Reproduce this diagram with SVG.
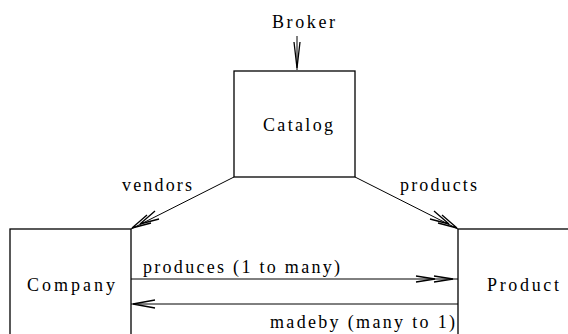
<svg xmlns="http://www.w3.org/2000/svg" width="568" height="334" viewBox="0 0 568 334">
  <style>
    .box { fill: #ffffff; stroke: #000000; stroke-width: 1.3; }
    .edge { fill: none; stroke: #000000; stroke-width: 1; }
    .head { fill: none; stroke: #000000; stroke-width: 1.3; }
    .lbl { font-family: 'Liberation Serif', 'DejaVu Serif', serif; font-size: 18px; fill: #000000; }
  </style>
  <rect width="568" height="334" fill="#ffffff"/>

  <!-- entity boxes -->
  <g id="catalog">
    <rect class="box" x="234" y="71" width="121" height="106"/>
    <text class="lbl" x="263" y="131" textLength="70" lengthAdjust="spacing">Catalog</text>
  </g>
  <g id="company">
    <rect class="box" x="10" y="229" width="121" height="120"/>
    <text class="lbl" x="27" y="291" textLength="88" lengthAdjust="spacing">Company</text>
  </g>
  <g id="product">
    <rect class="box" x="458" y="229" width="130" height="120"/>
    <text class="lbl" x="487" y="291" textLength="72" lengthAdjust="spacing">Product</text>
  </g>
  <g id="broker">
    <text class="lbl" x="272" y="28" textLength="63" lengthAdjust="spacing">Broker</text>
  </g>

  <!-- relationships -->
  <g id="connectors">
    <!-- Broker to Catalog -->
    <line class="edge" x1="297" y1="36" x2="297" y2="70"/>
    <polyline class="head" points="294,42 297,68 300,42"/>

    <!-- vendors: Catalog to Company (many) -->
    <line class="edge" x1="234" y1="177" x2="131" y2="229"/>
    <polyline class="head" points="147,215 132,228 151,223"/>
    <polyline class="head" points="155,211 140,224 159,219"/>

    <text class="lbl" x="122" y="191" textLength="70" lengthAdjust="spacing">vendors</text>

    <!-- products: Catalog to Product (many) -->
    <line class="edge" x1="355" y1="177" x2="458" y2="229"/>
    <polyline class="head" points="438,223 457,228 442,215"/>
    <polyline class="head" points="430,219 449,224 434,211"/>
    <text class="lbl" x="400" y="191" textLength="77" lengthAdjust="spacing">products</text>

    <!-- produces: Company to Product (1 to many) -->
    <line class="edge" x1="131" y1="279" x2="458" y2="279" stroke-width="1.3"/>
    <polyline class="head" points="416,276 435,279 416,282"/>
    <polyline class="head" points="434,276 453,279 434,282"/>
    <text class="lbl" x="143" y="273" textLength="197" lengthAdjust="spacing">produces (1 to many)</text>

    <!-- madeby: Product to Company (many to 1) -->
    <line class="edge" x1="458" y1="304" x2="131" y2="304" stroke-width="1.3"/>
    <polyline class="head" points="155,300 133,304 155,308"/>
    <text class="lbl" x="270" y="328" textLength="185" lengthAdjust="spacing">madeby (many to 1)</text>
  </g>
</svg>
